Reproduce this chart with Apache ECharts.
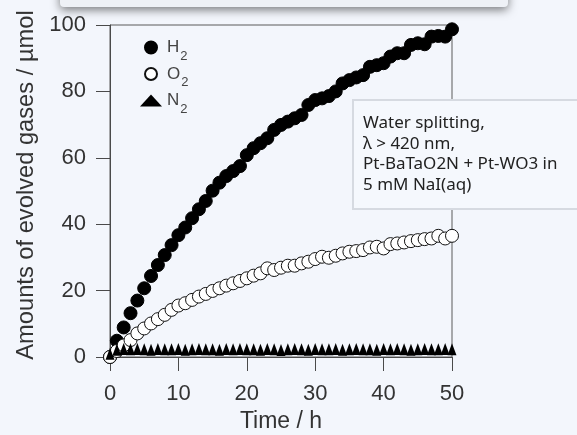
<!DOCTYPE html>
<html><head><meta charset="utf-8">
<script src="https://cdn.jsdelivr.net/npm/echarts@6/dist/echarts.min.js"></script>
<style>html,body{margin:0;padding:0;background:#f3f6fc;}#c{width:577px;height:435px;}</style>
</head><body><div id="c"></div>
<script>
const hours = [0,1,2,3,4,5,6,7,8,9,10,11,12,13,14,15,16,17,18,19,20,21,22,23,24,25,26,27,28,29,30,31,32,33,34,35,36,37,38,39,40,41,42,43,44,45,46,47,48,49,50];
const h2 = [0,4.9,8.9,13.2,17.0,20.7,24.4,27.7,30.7,33.7,36.7,39.0,41.8,44.5,47.0,50.1,52.5,54.5,56.0,57.5,60.8,62.9,64.4,65.9,68.4,69.9,70.9,71.9,72.9,75.9,77.4,77.9,78.6,80.0,82.4,83.4,84.2,84.9,87.4,87.9,88.5,90.5,91.5,91.5,94.0,94.5,94.2,96.5,96.7,96.5,98.7];
const o2 = [0,1.8,3.5,5.1,7.1,8.6,10.1,11.4,12.7,14.2,15.5,16.2,17.2,18.2,19.0,19.9,20.7,21.5,22.2,22.9,23.7,24.5,25.2,26.7,26.2,26.9,27.5,27.5,28.2,28.7,29.5,30.2,29.9,30.5,31.2,31.7,31.9,32.2,33.0,33.2,32.7,34.0,34.2,34.5,34.9,35.2,35.5,35.7,36.5,35.7,36.5];
const n2 = [1.0,2.2,2.4,2.3,2.4,2.3,2.2,2.4,2.3,2.3,2.4,2.2,2.3,2.4,2.3,2.3,2.2,2.4,2.3,2.4,2.3,2.3,2.2,2.4,2.3,2.1,2.3,2.4,2.3,2.2,2.4,2.3,2.3,2.4,2.2,2.3,2.4,2.3,2.3,2.2,2.4,2.3,2.4,2.3,2.2,2.3,2.4,2.3,2.3,2.4,2.3];
const seriesNames = ['H2','O2','N2'];
const xName = 'Time / h';
const yName = 'Amounts of evolved gases / \u00b5mol';
const noteLines = ['Water splitting,', '\u03bb > 420 nm,', 'Pt-BaTaO2N + Pt-WO3 in', '5 mM NaI(aq)'];

const pair = arr => hours.map((t, i) => [t, arr[i]]);
const chart = echarts.init(document.getElementById('c'), null, {renderer: 'canvas'});
const axisFont = 'Liberation Sans';
chart.setOption({
  backgroundColor: '#f3f6fc',
  animation: false,
  grid: {left: 110, right: 125, top: 25, bottom: 78, outerBoundsMode: 'none', containLabel: false, show: true, borderColor: '#5a5a5a', borderWidth: 1, backgroundColor: 'transparent'},
  legend: {
    orient: 'vertical', left: 135, top: 34, itemWidth: 22, itemHeight: 12, itemGap: 3,
    data: seriesNames,
    formatter: n => '{m|' + n.charAt(0) + '}{s|' + n.slice(1) + '}',
    textStyle: {
      color: '#444', fontFamily: axisFont, fontSize: 17,
      rich: {
        m: {fontSize: 17, fontFamily: axisFont, color: '#444', lineHeight: 18},
        s: {fontSize: 13, fontFamily: axisFont, color: '#444', verticalAlign: 'bottom', padding: [0, 0, -6, 1]}
      }
    }
  },
  xAxis: {
    type: 'value', min: 0, max: 50, interval: 10,
    name: xName, nameLocation: 'middle', nameGap: 44,
    nameTextStyle: {fontFamily: axisFont, fontSize: 23, color: '#333'},
    axisLine: {show: true, lineStyle: {color: '#4a4a4a', width: 1}},
    axisTick: {show: true, length: 14, lineStyle: {color: '#4a4a4a'}},
    axisLabel: {fontFamily: axisFont, fontSize: 22, color: '#333', margin: 26},
    splitLine: {show: false}
  },
  yAxis: {
    type: 'value', min: 0, max: 100, interval: 20,
    name: yName, nameLocation: 'middle', nameGap: 72,
    nameTextStyle: {fontFamily: axisFont, fontSize: 23.7, color: '#333', padding: [0, 0, 0, 12]},
    axisLine: {show: true, lineStyle: {color: '#4a4a4a', width: 1}},
    axisTick: {show: true, length: 14, lineStyle: {color: '#4a4a4a'}},
    axisLabel: {fontFamily: axisFont, fontSize: 22, color: '#333', margin: 24},
    splitLine: {show: false}
  },
  series: [
    {name: 'H2', type: 'scatter', symbol: 'circle', symbolSize: 13, data: pair(h2),
     itemStyle: {color: '#000', borderColor: '#000', borderWidth: 1, opacity: 1}},
    {name: 'O2', type: 'scatter', symbol: 'circle', symbolSize: 13, data: pair(o2),
     itemStyle: {color: '#fff', borderColor: '#111', borderWidth: 1, opacity: 1}},
    {name: 'N2', type: 'scatter', symbol: 'triangle', symbolSize: [9, 12], data: pair(n2),
     itemStyle: {color: '#000', opacity: 1}}
  ],
  graphic: [
    {type: 'rect', left: 60, top: -30, shape: {width: 448, height: 37, r: 4},
     style: {fill: '#eef1f6', shadowBlur: 10, shadowOffsetY: 3, shadowColor: 'rgba(0,0,0,0.5)'}, z: 100},
    {type: 'group', left: 352, top: 99, z: 100, children: [
      {type: 'rect', shape: {x: 0, y: 0, width: 240, height: 109},
       style: {fill: '#f5f8fd', stroke: '#d6dae1', lineWidth: 2}},
      {type: 'text', x: 10, y: 13,
       style: {text: noteLines.join('\n'), fill: '#222', font: '17px "Noto Sans"', lineHeight: 20.5, textVerticalAlign: 'top'}}
    ]}
  ]
});
</script></body></html>
